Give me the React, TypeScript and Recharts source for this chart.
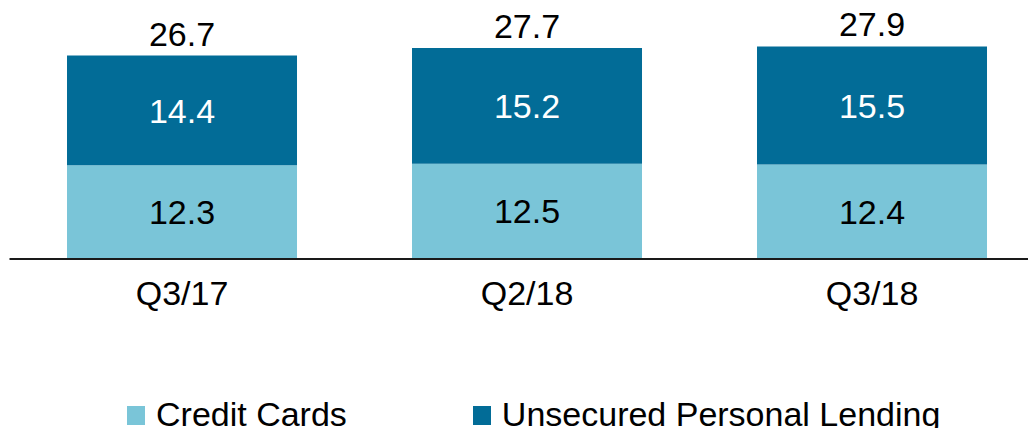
import React from "react";
import { BarChart, Bar, XAxis, YAxis, Legend, LabelList } from "recharts";

const quarters = ["Q3/17", "Q2/18", "Q3/18"];
const creditCards = [12.3, 12.5, 12.4];
const unsecuredLending = [14.4, 15.2, 15.5];
const totals = [26.7, 27.7, 27.9];

const LIGHT = "#7AC5D8";
const DARK = "#026C97";
const FONT = "'Liberation Sans', Arial, sans-serif";

const data = quarters.map((q, i) => ({
  quarter: q,
  credit: creditCards[i],
  unsecured: unsecuredLending[i],
  total: totals[i],
}));

const legendItems = [
  { label: "Credit Cards", color: LIGHT },
  { label: "Unsecured Personal Lending", color: DARK },
];

const LegendContent = () => (
  <div
    style={{
      height: 117,
      width: 1036,
      display: "flex",
      alignItems: "flex-end",
      boxSizing: "border-box",
      paddingLeft: 127,
      paddingBottom: 5,
      fontFamily: FONT,
      fontSize: 34,
      lineHeight: "34px",
      color: "#000",
    }}
  >
    {legendItems.map((item, i) => (
      <div
        key={item.label}
        style={{ display: "flex", alignItems: "center", marginRight: i === 0 ? 126 : 0 }}
      >
        <span
          style={{
            display: "inline-block",
            width: 18,
            height: 19,
            background: item.color,
            marginRight: 11,
            marginTop: 2,
          }}
        />
        <span style={{ whiteSpace: "nowrap" }}>{item.label}</span>
      </div>
    ))}
  </div>
);

const App: React.FC = () => {
  return (
    <div style={{ margin: -8, width: 1036, height: 436, overflow: "hidden", background: "#fff" }}>
      <BarChart
        width={1036}
        height={436}
        data={data}
        margin={{ top: 0, right: -8.5, left: 9.5, bottom: 0 }}
        barCategoryGap="16.67%"
      >
        <XAxis
          dataKey="quarter"
          height={60}
          tickLine={false}
          tickSize={0}
          tickMargin={22}
          axisLine={{ stroke: "#1a1a1a", strokeWidth: 2 }}
          tick={{ fill: "#000", fontSize: 34, fontFamily: FONT }}
        />
        <YAxis hide domain={[0, 34]} />
        <Legend
          verticalAlign="bottom"
          content={<LegendContent />}
          wrapperStyle={{ left: 0, width: 1036 }}
        />
        <Bar dataKey="credit" stackId="a" fill={LIGHT} isAnimationActive={false}>
          <LabelList
            dataKey="credit"
            position="center"
            fill="#000"
            fontSize={34}
            fontFamily={FONT}
          />
        </Bar>
        <Bar dataKey="unsecured" stackId="a" fill={DARK} isAnimationActive={false}>
          <LabelList
            dataKey="unsecured"
            position="center"
            fill="#fff"
            fontSize={34}
            fontFamily={FONT}
          />
          <LabelList
            dataKey="total"
            position="top"
            offset={10}
            fill="#000"
            fontSize={34}
            fontFamily={FONT}
          />
        </Bar>
      </BarChart>
    </div>
  );
};

export default App;
